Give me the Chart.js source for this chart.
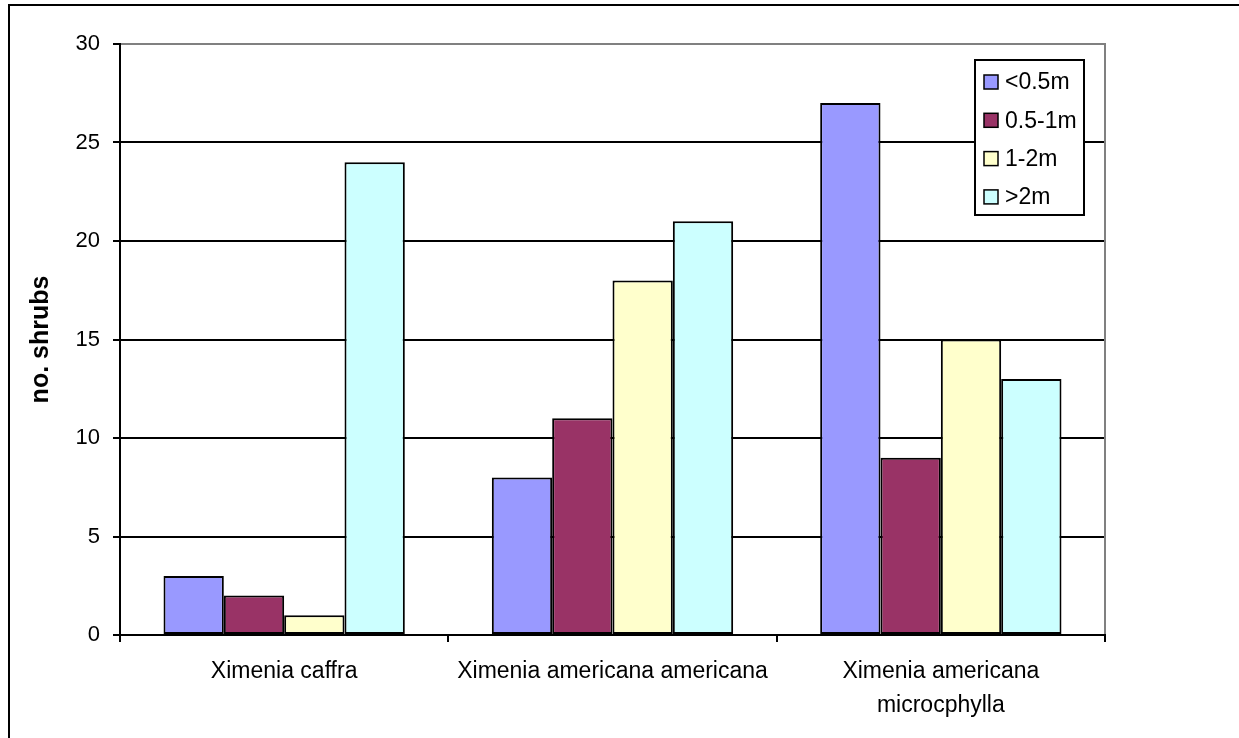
<!DOCTYPE html>
<html>
<head>
<meta charset="utf-8">
<script src="https://cdn.jsdelivr.net/npm/chart.js@4"></script>
<style>
  html, body { margin: 0; padding: 0; background: #fff; }
  #wrap { position: relative; width: 1239px; height: 738px; }
</style>
</head>
<body>
<div id="wrap"><canvas id="shrubChart"></canvas></div>
<script>
// data
const categories = [
  'Ximenia caffra',
  'Ximenia americana americana',
  ['Ximenia americana', 'microcphylla']
];
const sizeClasses = ['<0.5m', '0.5-1m', '1-2m', '>2m'];
const under05 = [3, 8, 27];
const from05to1 = [2, 11, 9];
const from1to2 = [1, 18, 15];
const over2 = [24, 21, 13];
const yTicks = [0, 5, 10, 15, 20, 25, 30];

const barColors = ['#9999FF', '#993366', '#FFFFCC', '#CCFFFF'];
const FONT = '"Liberation Sans", Arial, sans-serif';

// outer frame + grey plot-area border
const framePlugin = {
  id: 'frame',
  beforeDraw(chart) {
    const c = chart.ctx;
    c.save();
    c.fillStyle = '#fff';
    c.fillRect(0, 0, chart.width, chart.height);
    c.strokeStyle = '#000';
    c.lineWidth = 2;
    c.beginPath();
    c.moveTo(9, chart.height + 2);
    c.lineTo(9, 5);
    c.lineTo(chart.width + 2, 5);
    c.stroke();
    c.restore();
  },
  afterDraw(chart) {
    const a = chart.chartArea;
    const c = chart.ctx;
    c.save();
    c.strokeStyle = '#808080';
    c.lineWidth = 2;
    c.beginPath();
    c.moveTo(a.left + 1, a.top);
    c.lineTo(a.right, a.top);
    c.lineTo(a.right, a.bottom - 1);
    c.stroke();
    c.restore();
  }
};

// boxed legend inside the plot area
const boxLegend = {
  id: 'boxLegend',
  afterDraw(chart) {
    const a = chart.chartArea;
    const c = chart.ctx;
    const x0 = a.right - 130, y0 = a.top + 16, w = 109, h = 155;
    c.save();
    c.fillStyle = '#fff';
    c.fillRect(x0, y0, w, h);
    c.strokeStyle = '#000';
    c.lineWidth = 2;
    c.strokeRect(x0, y0, w, h);
    c.font = '23px ' + FONT;
    c.textBaseline = 'middle';
    chart.data.datasets.forEach((ds, i) => {
      const cy = y0 + 22 + i * 38.3;
      c.fillStyle = ds.backgroundColor;
      c.fillRect(x0 + 9, cy - 7, 14, 14);
      c.lineWidth = 1.5;
      c.strokeRect(x0 + 9, cy - 7, 14, 14);
      c.fillStyle = '#000';
      c.fillText(ds.label, x0 + 30, cy + 1);
    });
    c.restore();
  }
};

const seriesValues = [under05, from05to1, from1to2, over2];

new Chart(document.getElementById('shrubChart'), {
  type: 'bar',
  data: {
    labels: categories,
    datasets: seriesValues.map((vals, i) => ({
      label: sizeClasses[i],
      data: vals,
      backgroundColor: barColors[i],
      borderColor: '#000',
      borderWidth: 2,
      borderSkipped: false,
      barPercentage: 1,
      categoryPercentage: 0.735
    }))
  },
  options: {
    responsive: true,
    maintainAspectRatio: false,
    animation: false,
    layout: { padding: { left: 0, top: 44, right: 134, bottom: 0 } },
    plugins: {
      legend: { display: false },
      tooltip: { enabled: false }
    },
    scales: {
      x: {
        offset: true,
        grid: {
          offset: true,
          drawOnChartArea: false,
          drawTicks: true,
          tickLength: 7,
          color: '#000',
          lineWidth: 2
        },
        border: { color: '#000', width: 2 },
        ticks: {
          color: '#000',
          padding: 12,
          maxRotation: 0,
          autoSkip: false,
          font: { family: FONT, size: 23, lineHeight: 1.5 }
        },
        afterFit(scale) { scale.height = 103; }
      },
      y: {
        min: 0,
        max: 30,
        afterBuildTicks(scale) { scale.ticks = yTicks.map(v => ({ value: v })); },
        grid: { color: '#000', lineWidth: 2, tickLength: 7 },
        border: { color: '#000', width: 2 },
        ticks: {
          color: '#000',
          padding: 13,
          font: { family: FONT, size: 22 }
        },
        title: {
          display: true,
          text: 'no. shrubs',
          color: '#000',
          padding: { top: 26, bottom: 0 },
          font: { family: FONT, size: 25, weight: 'bold' }
        },
        afterFit(scale) { scale.width = 120; }
      }
    }
  },
  plugins: [framePlugin, boxLegend]
});
</script>
</body>
</html>
